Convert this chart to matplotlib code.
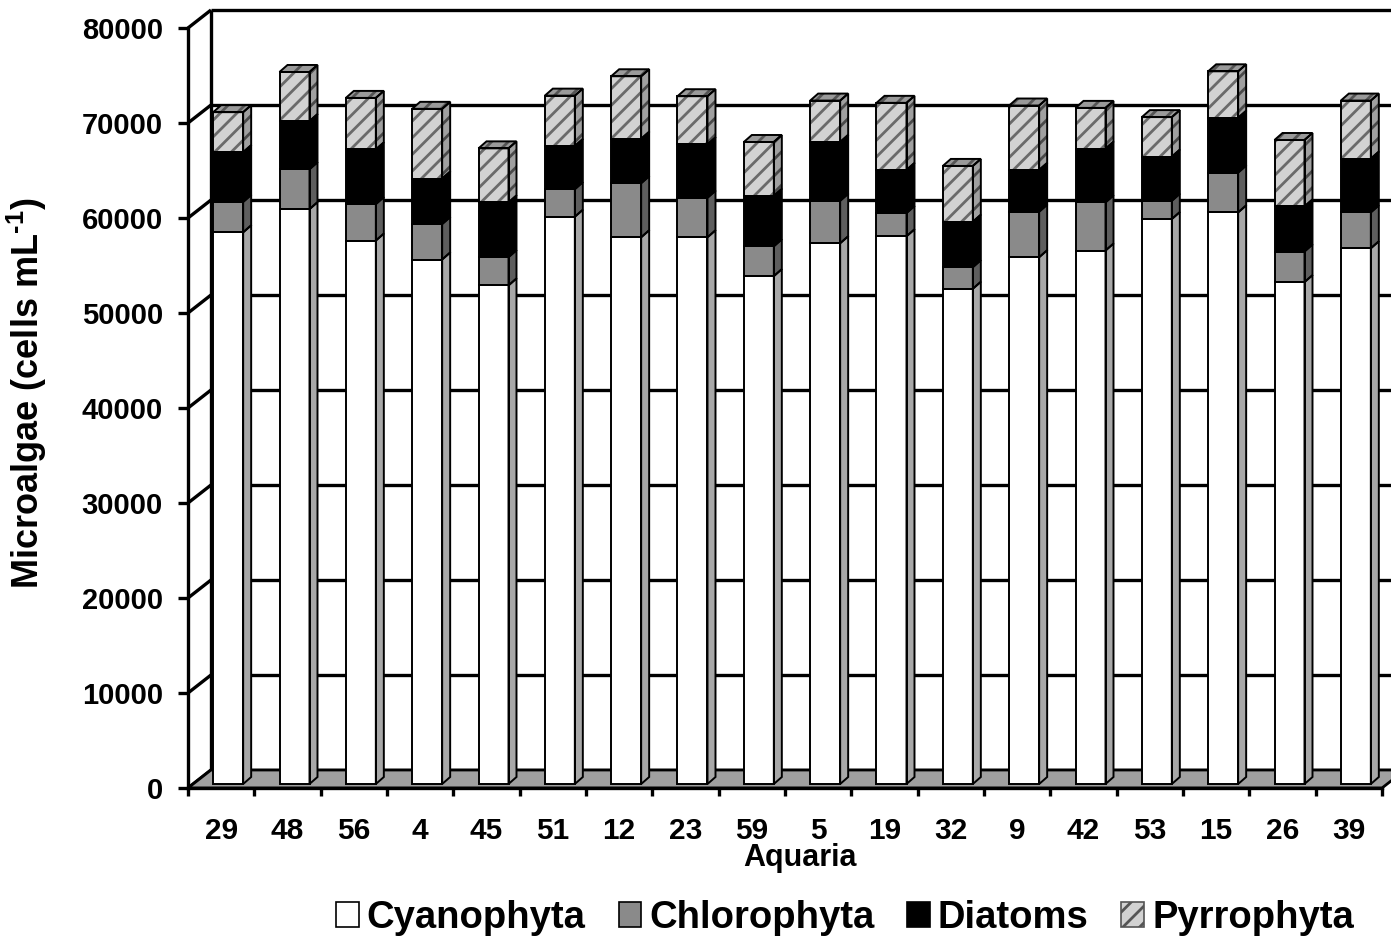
import matplotlib
matplotlib.use("Agg")
import matplotlib.pyplot as plt
from matplotlib.patches import Polygon, Patch

plt.rcParams["font.family"] = ["Liberation Sans", "DejaVu Sans"]
plt.rcParams["font.weight"] = "bold"
plt.rcParams["mathtext.fontset"] = "custom"
plt.rcParams["mathtext.rm"] = "Liberation Sans:bold"
plt.rcParams["mathtext.bf"] = "Liberation Sans:bold"
plt.rcParams["hatch.linewidth"] = 2.0

# aquaria in plotted order
aquaria = ["29", "48", "56", "4", "45", "51", "12", "23", "59",
           "5", "19", "32", "9", "42", "53", "15", "26", "39"]

# cells per mL
cyanophyta = [58070, 60510, 57200, 55210, 52480, 59710, 57550, 57550, 53460,
              56920, 57650, 52130, 55450, 56150, 59470, 60170, 52830, 56390]
chlorophyta = [3200, 4200, 3840, 3730, 2970, 2900, 5690, 4160, 3140,
               4470, 2450, 2270, 4790, 5070, 1920, 4190, 3220, 3780]
diatoms = [5240, 5070, 5760, 4790, 5770, 4550, 4680, 5620, 5320,
           6190, 4540, 4790, 4400, 5660, 4650, 5770, 4750, 5660]
pyrrophyta = [4210, 5170, 5420, 7340, 5690, 5300, 6580, 5070, 5660,
              4360, 7060, 5870, 6780, 4290, 4160, 4890, 6990, 6110]

groups = ["Cyanophyta", "Chlorophyta", "Diatoms", "Pyrrophyta"]
series = [cyanophyta, chlorophyta, diatoms, pyrrophyta]
front_col = ["white", "#8a8a8a", "black", "#d2d2d2"]
side_col = ["#a8a8a8", "#5e5e5e", "black", "#a0a0a0"]
hatches = [None, None, None, "//"]

yticks = list(range(0, 80001, 10000))

W, H = 1391, 942
fig = plt.figure(figsize=(W / 100, H / 100), dpi=100)
x0px, x1px, y0px, y1px = 188, 1382, 788, 28
ax = fig.add_axes([x0px / W, (H - y0px) / H, (x1px - x0px) / W, (y0px - y1px) / H])
n = len(aquaria)
ax.set_xlim(-0.5, n - 0.5)
ax.set_ylim(0, 80000)

pxx = (x1px - x0px) / n          # px per category
pxy = (y0px - y1px) / 80000      # px per unit

# depth of the walls and of the columns, in data units
wdx, wdy = 23 / pxx, 18 / pxy
bdx, bdy = 8 / pxx, 7 / pxy
offx, base = 7 / pxx, 4 / pxy
fw = 30 / pxx

lk = dict(color="black", lw=2.4, clip_on=False, solid_capstyle="butt")

# back wall and gridlines
left, right = -0.5, n - 0.5
ax.add_patch(Polygon([(left + wdx, wdy), (right + wdx, wdy), (right + wdx, 80000 + wdy),
                      (left + wdx, 80000 + wdy)], closed=True, facecolor="white",
                     edgecolor="none", zorder=0, clip_on=False))
for v in yticks:
    ax.plot([left + wdx, right + wdx], [v + wdy, v + wdy], zorder=1, **lk)
    ax.plot([left, left + wdx], [v, v + wdy], zorder=1, **lk)
ax.plot([left + wdx, left + wdx], [wdy, 80000 + wdy], zorder=1, **lk)

# floor
ax.add_patch(Polygon([(left, 0), (right, 0), (right + wdx, wdy), (left + wdx, wdy)],
                     closed=True, facecolor="#a0a0a0", edgecolor="black", lw=2.0,
                     zorder=2, clip_on=False))

# stacked columns
for i in range(n):
    xa = i - fw / 2 + offx
    xb = xa + fw
    bottom = base
    for k, vals in enumerate(series):
        top = bottom + vals[i]
        front = [(xa, bottom), (xb, bottom), (xb, top), (xa, top)]
        side = [(xb, bottom), (xb + bdx, bottom + bdy), (xb + bdx, top + bdy), (xb, top)]
        for poly, fc, ec in [(front, front_col[k], "#6a6a6a"), (side, side_col[k], "#4a4a4a")]:
            ax.add_patch(Polygon(poly, closed=True, facecolor=fc, edgecolor=ec if hatches[k] else "none",
                                 hatch=hatches[k], lw=0, zorder=3, clip_on=False))
            ax.add_patch(Polygon(poly, closed=True, fill=False, edgecolor="black",
                                 lw=1.4, zorder=4, clip_on=False))
        bottom = top
    lid = [(xa, bottom), (xb, bottom), (xb + bdx, bottom + bdy), (xa + bdx, bottom + bdy)]
    ax.add_patch(Polygon(lid, closed=True, facecolor="#9a9a9a", edgecolor="#555555",
                         hatch="//", lw=0, zorder=3, clip_on=False))
    ax.add_patch(Polygon(lid, closed=True, fill=False, edgecolor="black",
                         lw=1.4, zorder=4, clip_on=False))

# axes, ticks, labels
for s in ["top", "right"]:
    ax.spines[s].set_visible(False)
ax.spines["left"].set_linewidth(2.4)
ax.spines["bottom"].set_linewidth(2.4)
ax.set_facecolor("none")

ax.set_yticks(yticks)
ax.set_yticklabels([str(v) for v in yticks])
ax.tick_params(axis="y", length=7, width=2.4, pad=11, labelsize=21)
ax.set_xticks([i - 0.5 for i in range(n + 1)])
ax.set_xticklabels([])
ax.tick_params(axis="x", which="major", length=6, width=2.4)
ax.set_xticks(range(n), minor=True)
ax.set_xticklabels(aquaria, minor=True)
ax.tick_params(axis="x", which="minor", length=0, pad=21, labelsize=21.5)

fig.text(800 / W, (H - 858) / H, "Aquaria", ha="center", va="center",
         fontsize=22, fontweight="bold")
fig.text(27 / W, (H - 393) / H, r"Microalgae (cells mL$^{\text{-1}}$)", ha="center",
         va="center", rotation=90, fontsize=26, fontweight="bold")

handles = [Patch(facecolor=front_col[k], edgecolor="black" if not hatches[k] else "#555555",
                 hatch=hatches[k], lw=1.2, label=groups[k]) for k in range(4)]
fig.legend(handles=handles, ncol=4, loc="center", frameon=False,
           bbox_to_anchor=(845 / W, (H - 918) / H),
           prop={"size": 27.5, "weight": "bold"}, handlelength=0.6, handleheight=0.6,
           handletextpad=0.2, columnspacing=0.86)

fig.savefig("out.png", dpi=100)
